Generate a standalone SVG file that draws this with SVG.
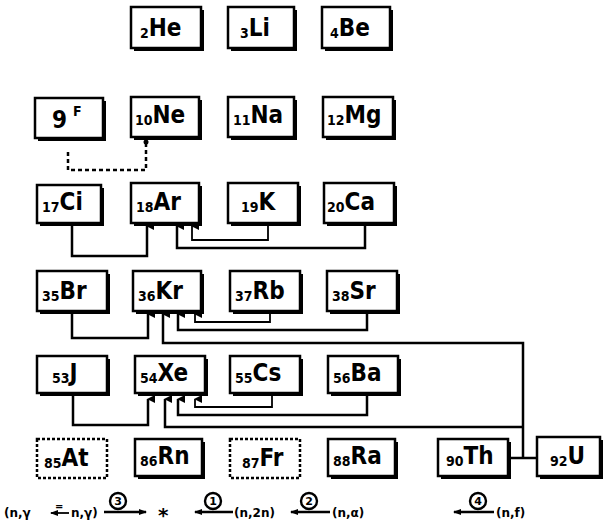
<svg xmlns="http://www.w3.org/2000/svg" width="606" height="532" viewBox="0 0 606 532">
<style>
.box{fill:#fff;stroke:#000;stroke-width:2.5}
.dbox{fill:#fff;stroke:#000;stroke-width:2.5;stroke-dasharray:3 2}
.sh{fill:#000}
.sym{font-family:"DejaVu Sans Condensed","DejaVu Sans",sans-serif;font-size:24px;font-weight:bold;fill:#000}
.sub{font-family:"DejaVu Sans Condensed","DejaVu Sans",sans-serif;font-size:14px;font-weight:bold;fill:#000}
.c{fill:none;stroke:#000;stroke-width:2.5}
.ct{fill:none;stroke:#000;stroke-width:1.8}
.cd{fill:none;stroke:#000;stroke-width:2.5;stroke-dasharray:4 3}
.lg{font-family:"DejaVu Sans",sans-serif;font-size:12px;font-weight:bold;fill:#000}
.num{font-family:"DejaVu Sans",sans-serif;font-size:11px;font-weight:bold;fill:#000;text-anchor:middle}
.circ{fill:none;stroke:#000;stroke-width:2.4}
</style>
<defs>
<marker id="ah" markerWidth="8" markerHeight="8" refX="4" refY="1" orient="auto-start-reverse" markerUnits="userSpaceOnUse" viewBox="0 0 8 8">
<path d="M0,8 L4,0 L8,8 Z" fill="#000"/>
</marker>
<marker id="al" markerWidth="8" markerHeight="8" refX="1" refY="4" orient="0" markerUnits="userSpaceOnUse" viewBox="0 0 8 8">
<path d="M8,1 L0,4 L8,7 Z" fill="#000"/>
</marker>
<marker id="ar" markerWidth="8" markerHeight="8" refX="7" refY="4" orient="0" markerUnits="userSpaceOnUse" viewBox="0 0 8 8">
<path d="M0,1 L8,4 L0,7 Z" fill="#000"/>
</marker>
</defs>

<g id="connectors">
<path class="cd" d="M68,152 V170 H146 V144"/>
<circle cx="146" cy="142" r="2.5" fill="#000"/>
<path class="c" d="M72,223 V256 H147 V226" marker-end="url(#ah)"/>
<path class="c" d="M365,223 V248 H177 V226" marker-end="url(#ah)"/>
<path class="ct" d="M268,223 V240 H192 V226" marker-end="url(#ah)"/>
<path class="c" d="M72,311 V338 H148 V314" marker-end="url(#ah)"/>
<path class="c" d="M523,458 V343 H163 V314" marker-end="url(#ah)"/>
<path class="c" d="M367,311 V330 H178 V314" marker-end="url(#ah)"/>
<path class="ct" d="M270,311 V322 H195 V314" marker-end="url(#ah)"/>
<path class="c" d="M73,396 V425 H148 V399" marker-end="url(#ah)"/>
<path class="c" d="M523,427 H165 V399" marker-end="url(#ah)"/>
<path class="c" d="M367,396 V415 H178 V399" marker-end="url(#ah)"/>
<path class="ct" d="M272,396 V407 H195 V399" marker-end="url(#ah)"/>
<path class="c" d="M510,458 H537"/>
</g>

<g id="He"><rect class="sh" x="134" y="10" width="70" height="41"/><rect class="box" x="131" y="7" width="70" height="41"/><text x="140" y="38"><tspan class="sub">2</tspan><tspan class="sym" dy="-2">He</tspan></text></g>
<g id="Li"><rect class="sh" x="231" y="10" width="66" height="41"/><rect class="box" x="228" y="7" width="66" height="41"/><text x="240" y="38"><tspan class="sub">3</tspan><tspan class="sym" dy="-2">Li</tspan></text></g>
<g id="Be"><rect class="sh" x="325" y="10" width="68" height="41"/><rect class="box" x="322" y="7" width="68" height="41"/><text x="330" y="38"><tspan class="sub">4</tspan><tspan class="sym" dy="-2">Be</tspan></text></g>

<g id="F"><rect class="sh" x="38" y="101" width="68" height="40"/><rect class="box" x="35" y="98" width="68" height="40"/><text x="52" y="128"><tspan class="sym">9</tspan><tspan class="sub" dx="6" dy="-12">F</tspan></text></g>
<g id="Ne"><rect class="sh" x="134" y="100" width="68" height="40"/><rect class="box" x="131" y="97" width="68" height="40"/><text x="135" y="125"><tspan class="sub">10</tspan><tspan class="sym" dy="-2">Ne</tspan></text></g>
<g id="Na"><rect class="sh" x="231" y="100" width="66" height="40"/><rect class="box" x="228" y="97" width="66" height="40"/><text x="233" y="125"><tspan class="sub">11</tspan><tspan class="sym" dy="-2">Na</tspan></text></g>
<g id="Mg"><rect class="sh" x="326" y="100" width="70" height="40"/><rect class="box" x="323" y="97" width="70" height="40"/><text x="327" y="125"><tspan class="sub">12</tspan><tspan class="sym" dy="-2">Mg</tspan></text></g>

<g id="Cl"><rect class="sh" x="40" y="188" width="64" height="38"/><rect class="box" x="37" y="185" width="64" height="38"/><text x="42" y="212"><tspan class="sub">17</tspan><tspan class="sym" dy="-2">Ci</tspan></text></g>
<g id="Ar"><rect class="sh" x="134" y="186" width="68" height="40"/><rect class="box" x="131" y="183" width="68" height="40"/><text x="136" y="212"><tspan class="sub">18</tspan><tspan class="sym" dy="-2">Ar</tspan></text></g>
<g id="K"><rect class="sh" x="231" y="186" width="70" height="40"/><rect class="box" x="228" y="183" width="70" height="40"/><text x="241" y="212"><tspan class="sub">19</tspan><tspan class="sym" dy="-2">K</tspan></text></g>
<g id="Ca"><rect class="sh" x="327" y="186" width="70" height="40"/><rect class="box" x="324" y="183" width="70" height="40"/><text x="327" y="212"><tspan class="sub">20</tspan><tspan class="sym" dy="-2">Ca</tspan></text></g>

<g id="Br"><rect class="sh" x="40" y="274" width="70" height="40"/><rect class="box" x="37" y="271" width="70" height="40"/><text x="42" y="301"><tspan class="sub">35</tspan><tspan class="sym" dy="-2">Br</tspan></text></g>
<g id="Kr"><rect class="sh" x="136" y="274" width="68" height="40"/><rect class="box" x="133" y="271" width="68" height="40"/><text x="138" y="301"><tspan class="sub">36</tspan><tspan class="sym" dy="-2">Kr</tspan></text></g>
<g id="Rb"><rect class="sh" x="233" y="274" width="70" height="40"/><rect class="box" x="230" y="271" width="70" height="40"/><text x="235" y="301"><tspan class="sub">37</tspan><tspan class="sym" dy="-2">Rb</tspan></text></g>
<g id="Sr"><rect class="sh" x="330" y="274" width="70" height="40"/><rect class="box" x="327" y="271" width="70" height="40"/><text x="332" y="301"><tspan class="sub">38</tspan><tspan class="sym" dy="-2">Sr</tspan></text></g>

<g id="J"><rect class="sh" x="40" y="359" width="70" height="37"/><rect class="box" x="37" y="356" width="70" height="37"/><text x="52" y="383"><tspan class="sub">53</tspan><tspan class="sym" dy="-2">J</tspan></text></g>
<g id="Xe"><rect class="sh" x="138" y="359" width="70" height="37"/><rect class="box" x="135" y="356" width="70" height="37"/><text x="140" y="383"><tspan class="sub">54</tspan><tspan class="sym" dy="-2">Xe</tspan></text></g>
<g id="Cs"><rect class="sh" x="233" y="359" width="70" height="37"/><rect class="box" x="230" y="356" width="70" height="37"/><text x="235" y="383"><tspan class="sub">55</tspan><tspan class="sym" dy="-2">Cs</tspan></text></g>
<g id="Ba"><rect class="sh" x="331" y="359" width="70" height="37"/><rect class="box" x="328" y="356" width="70" height="37"/><text x="333" y="383"><tspan class="sub">56</tspan><tspan class="sym" dy="-2">Ba</tspan></text></g>

<g id="At"><rect class="dbox" x="37" y="439" width="70" height="39"/><text x="44" y="468"><tspan class="sub">85</tspan><tspan class="sym" dy="-2">At</tspan></text></g>
<g id="Rn"><rect class="sh" x="138" y="442" width="67" height="37"/><rect class="box" x="135" y="439" width="67" height="37"/><text x="140" y="466"><tspan class="sub">86</tspan><tspan class="sym" dy="-2">Rn</tspan></text></g>
<g id="Fr"><rect class="dbox" x="230" y="439" width="70" height="39"/><text x="242" y="468"><tspan class="sub">87</tspan><tspan class="sym" dy="-2">Fr</tspan></text></g>
<g id="Ra"><rect class="sh" x="331" y="442" width="67" height="37"/><rect class="box" x="328" y="439" width="67" height="37"/><text x="333" y="466"><tspan class="sub">88</tspan><tspan class="sym" dy="-2">Ra</tspan></text></g>
<g id="Th"><rect class="sh" x="441" y="442" width="70" height="37"/><rect class="box" x="438" y="439" width="70" height="37"/><text x="446" y="466"><tspan class="sub">90</tspan><tspan class="sym" dy="-2">Th</tspan></text></g>
<g id="U"><rect class="sh" x="540" y="440" width="63" height="39"/><rect class="box" x="537" y="437" width="63" height="39"/><text x="550" y="466"><tspan class="sub">92</tspan><tspan class="sym" dy="-2">U</tspan></text></g>

<g id="legend">
<text class="lg" x="4" y="517">(n,γ</text>
<path class="ct" d="M69,513 H51" marker-end="url(#al)"/>
<text class="lg" x="55" y="510" style="font-size:10px">=</text>
<text class="lg" x="71" y="517">n,γ)</text>
<circle class="circ" cx="118" cy="501" r="8"/><text class="num" x="118" y="505">3</text>
<path class="c" d="M104,512 H146" marker-end="url(#ar)"/>
<text class="lg" x="158" y="522" style="font-size:20px">*</text>
<circle class="circ" cx="213" cy="501" r="8"/><text class="num" x="213" y="505">1</text>
<path class="c" d="M233,512 H195" marker-end="url(#al)"/>
<text class="lg" x="234" y="517">(n,2n)</text>
<circle class="circ" cx="309" cy="501" r="8"/><text class="num" x="309" y="505">2</text>
<path class="c" d="M330,512 H291" marker-end="url(#al)"/>
<text class="lg" x="332" y="517">(n,α)</text>
<circle class="circ" cx="478" cy="501" r="8"/><text class="num" x="478" y="505">4</text>
<path class="c" d="M494,512 H454" marker-end="url(#al)"/>
<text class="lg" x="496" y="517">(n,f)</text>
</g>
</svg>
